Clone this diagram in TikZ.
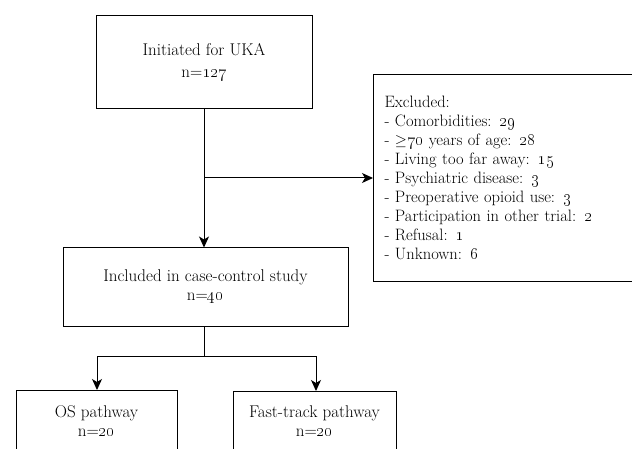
\documentclass[tikz,border=0pt]{standalone}
\usetikzlibrary{arrows.meta}
\newcommand{\osn}[1]{\oldstylenums{#1}}
\begin{document}
\begin{tikzpicture}[x=1pt,y=-1pt,
  box/.style={draw=black, line width=1pt, rectangle, inner sep=0pt, align=center,
    font=\fontsize{17}{19}\selectfont},
  listbox/.style={box, font=\fontsize{16.5}{19}\selectfont},
  conn/.style={line width=1pt, draw=black},
  arr/.style={conn, -{Stealth[length=11pt,width=10pt,inset=3pt]}}]
\useasboundingbox (0,0) rectangle (632,449);
\clip (0,0) rectangle (632,449);
\node[box, minimum width=216pt, minimum height=93pt] (top) at (204,62.5)
  {Initiated for UKA\\[3pt] n=\osn{127}};
\node[box, minimum width=285pt, minimum height=78pt] (inc) at (205.5,287)
  {Included in case-control study\\ n=\osn{40}};
\node[listbox, anchor=north west, align=left, text width=258pt, inner xsep=11pt,
  minimum height=207pt] (exc) at (373,74)
  {Excluded:\\
   - Comorbidities: \osn{29}\\
   - \raisebox{0.5pt}{\scalebox{0.9}{$\geq$}}\osn{70} years of age: \osn{28}\\
   - Living too far away: \osn{15}\\
   - Psychiatric disease: \osn{3}\\
   - Preoperative opioid use: \osn{3}\\
   - Participation in other trial: \osn{2}\\
   - Refusal: \osn{1}\\
   - Unknown: \osn{6}};
\node[box, minimum width=161pt, minimum height=62pt] (os) at (96.5,421)
  {OS pathway\\ n=\osn{20}};
\node[box, minimum width=163pt, minimum height=60pt] (ft) at (314.5,421)
  {Fast-track pathway\\ n=\osn{20}};
\coordinate (j1) at (204,178);
\coordinate (j2) at (204,356);
\draw[arr] (top.south -| j1) -- (inc.north -| j1);
\draw[arr] (j1) -- (j1 -| exc.west);
\draw[conn] (inc.south -| j2) -- (j2);
\draw[arr] (j2) -| (97,356) -- (97,390);
\draw[arr] (j2) -| (316,356) -- (316,391);
\end{tikzpicture}
\end{document}
